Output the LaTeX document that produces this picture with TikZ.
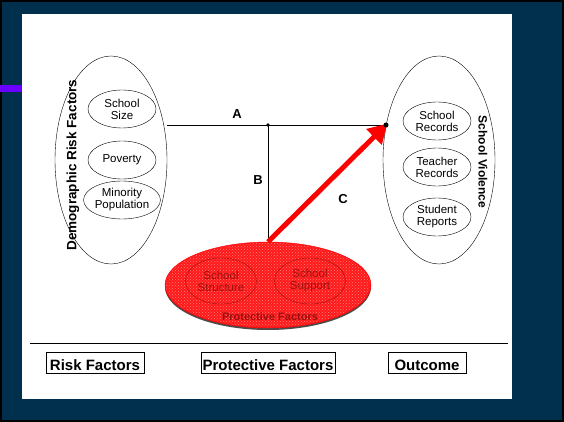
\documentclass[tikz,border=0pt]{standalone}
\usepackage{fontspec}
\setmainfont{Liberation Sans}
\usetikzlibrary{shapes.geometric}
\usetikzlibrary{arrows.meta}
\usetikzlibrary{patterns}
\usetikzlibrary{positioning}
\definecolor{navy}{HTML}{01304F}
\definecolor{violet}{HTML}{6A00FF}
\definecolor{darkred}{HTML}{9A1010}

\begin{document}
\begin{tikzpicture}
  [x=1pt, y=-1pt,
   group/.style={draw, ellipse, inner sep=0pt, minimum width=112pt, minimum height=208pt},
   item/.style={draw, ellipse, inner sep=0pt, minimum width=68pt, minimum height=38pt,
       font=\fontsize{11.5}{12}\selectfont, align=center},
   inner/.style={item, draw=darkred, text=darkred, minimum width=71pt, minimum height=46pt},
   tag/.style={font=\fontsize{13}{14}\selectfont\bfseries},
   side/.style={font=\fontsize{12}{13}\selectfont\bfseries},
   legend/.style={draw, thick, inner sep=0pt, minimum height=21pt, text height=16pt, text depth=0pt,
       font=\fontsize{15}{16}\selectfont\bfseries},
  ]
  % frame
  \fill[black] (0,0) rectangle (564,422);
  \fill[navy] (2,2) rectangle (562,420);
  \fill[white] (22,14) rectangle (512,399);
  \fill[violet] (0,85) rectangle (22,92);
  \useasboundingbox (0,0) rectangle (564,422);

  % risk side
  \node[group] (risk) at (111,160) {};
  \node[item] (size) at (122,109) {School\\Size};
  \node[item] (poverty) at (122,160) {Poverty};
  \node[item] (minority) at (122,200) {Minority\\Population};
  \node[side, font=\fontsize{13.5}{14}\selectfont\bfseries, rotate=90] (risklbl) at (73,165) {Demographic Risk Factors};

  % outcome side
  \node[group] (outcome) at (439,160) {};
  \node[item] (srec) at (437,121) {School\\Records};
  \node[item] (trec) at (437,167) {Teacher\\Records};
  \node[item] (srep) at (437,217) {Student\\Reports};
  \node[side, rotate=-90] (outlbl) at (483,162) {School Violence};

  % protective factors
  \fill[black!70] (268,287) ellipse (103pt and 43pt);
  \node[draw=red, ellipse, inner sep=0pt, minimum width=206pt, minimum height=86pt,
        fill=red!90] (protect) at (268,285) {};
  \fill[pattern=crosshatch dots, pattern color=white!50!red] (268,285) ellipse (102pt and 42pt);
  \node[inner] (structure) at (221,281) {School\\Structure};
  \node[inner] (support) at (310,281) {School\\Support};
  \node[font=\fontsize{11}{12}\selectfont\bfseries, text=darkred] (protlbl) at (270,317) {Protective Factors};

  % paths
  \coordinate (tip) at (386,125);
  \coordinate (joint) at (268,125);
  \draw[thick] (risk.east |- tip) -- (tip);
  \draw[thick] (joint) -- (protect.north);
  \fill (joint) circle (1.8pt);
  \draw[red, line width=5pt, -{Triangle[length=19pt, width=21pt]}, shorten >=-2pt] (protect.north) -- (tip);
  \fill (tip) circle (2.5pt);
  \node[tag] (lblA) at (237,114) {A};
  \node[tag] (lblB) at (258,180) {B};
  \node[tag] (lblC) at (343,199) {C};

  % legend
  \draw (30,343) -- (508,343);
  \node[legend, minimum width=98pt] (rf) at (95,362.5) {Risk Factors};
  \node[legend, minimum width=134pt] (pf) at (268,362.5) {Protective Factors};
  \node[legend, minimum width=78pt] (oc) at (427,362.5) {Outcome};
\end{tikzpicture}
\end{document}
